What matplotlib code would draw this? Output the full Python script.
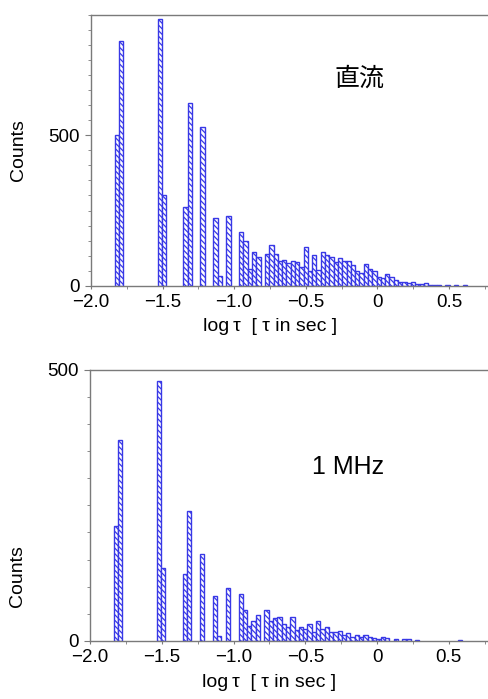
import matplotlib
matplotlib.use("Agg")

import numpy as np
import matplotlib.pyplot as plt
from matplotlib.ticker import MultipleLocator, FixedLocator, FixedFormatter

plt.rcParams["font.family"] = ["Liberation Sans", "Noto Sans CJK JP"]
plt.rcParams["hatch.linewidth"] = 0.9

# histogram of log tau: uniform bins, left edge of first bin and width
BIN_START = -1.835
BIN_WIDTH = 0.03

# counts per bin, DC measurement (top)
counts_dc = [
    500, 811, 0, 0, 0, 0, 0, 0, 0, 0,
    887, 303, 0, 0, 0, 0, 262, 606, 0, 0,
    528, 0, 0, 226, 33, 0, 233, 0, 0, 179,
    148, 56, 114, 96, 0, 107, 137, 107, 81, 87,
    76, 81, 79, 64, 129, 51, 101, 53, 114, 102,
    95, 78, 92, 83, 84, 70, 48, 42, 73, 56,
    48, 31, 25, 39, 29, 20, 14, 12, 11, 12,
    7, 7, 9, 4, 3, 4, 0, 2, 0, 2,
    0, 2,
]

# counts per bin, 1 MHz measurement (bottom)
counts_1mhz = [
    212, 370, 0, 0, 0, 0, 0, 0, 0, 0,
    480, 134, 0, 0, 0, 0, 124, 240, 0, 0,
    160, 0, 0, 83, 10, 0, 97, 0, 0, 86,
    58, 28, 36, 48, 0, 57, 37, 43, 45, 31,
    26, 44, 20, 25, 23, 31, 16, 37, 23, 25,
    17, 17, 19, 11, 15, 8, 11, 7, 11, 8,
    6, 4, 7, 6, 0, 3, 0, 3, 4, 0,
    2, 0, 0, 0, 0, 0, 0, 0, 0, 0,
    2,
]

x_ticks = [-2.0, -1.5, -1.0, -0.5, 0.0, 0.5]
x_ticklabels = ["\u22122.0", "\u22121.5", "\u22121.0", "\u22120.5", "0", "0.5"]

BAR_COLOR = "#3838E6"
SPINE_COLOR = "#7a7a7a"


def draw_panel(ax, counts, ymax, note, note_xy, ylabel_y):
    counts = np.array(counts, dtype=float)
    lefts = BIN_START + BIN_WIDTH * np.arange(len(counts))
    keep = counts > 0
    ax.bar(lefts[keep], counts[keep], width=BIN_WIDTH, align="edge",
           facecolor="white", edgecolor=BAR_COLOR, linewidth=1.0,
           hatch="\\\\\\\\\\\\", zorder=2)

    ax.set_xlim(-2.0, 0.78)
    ax.set_ylim(0, ymax)

    ax.xaxis.set_major_locator(FixedLocator(x_ticks))
    ax.xaxis.set_major_formatter(FixedFormatter(x_ticklabels))
    ax.xaxis.set_minor_locator(MultipleLocator(0.25))
    ax.yaxis.set_major_locator(MultipleLocator(500))
    ax.yaxis.set_minor_locator(MultipleLocator(50))

    ax.tick_params(axis="both", which="major", labelsize=13.5, direction="out",
                   length=4, width=0.8, color=SPINE_COLOR)
    ax.tick_params(axis="y", which="major", pad=4)
    ax.tick_params(axis="x", which="major", pad=3.5)
    ax.tick_params(axis="both", which="minor", direction="out",
                   length=2, width=0.6, color=SPINE_COLOR)
    ax.tick_params(axis="x", which="both", length=2.5)

    for side in ("left", "bottom", "top"):
        ax.spines[side].set_color(SPINE_COLOR)
        ax.spines[side].set_linewidth(1.0)
    ax.spines["right"].set_visible(False)

    ax.set_xlabel("log\u2009\u03c4  [ \u03c4 in sec ]", fontsize=14)
    ax.xaxis.set_label_coords(0.45, -0.12)
    ax.set_ylabel("Counts", fontsize=14)
    ax.yaxis.set_label_coords(-0.16, ylabel_y)

    ax.text(note_xy[0], note_xy[1], note, transform=ax.transAxes,
            fontsize=18, ha="center", va="center")


fig = plt.figure(figsize=(4.89, 6.99), dpi=100)
ax1 = fig.add_axes([0.186, 0.591, 0.814, 0.388])
ax2 = fig.add_axes([0.184, 0.083, 0.816, 0.388])

draw_panel(ax1, counts_dc, 900, "直流", (0.675, 0.765), 0.5)
draw_panel(ax2, counts_1mhz, 500, "1 MHz", (0.647, 0.64), 0.24)

fig.savefig("out.png", dpi=100)
